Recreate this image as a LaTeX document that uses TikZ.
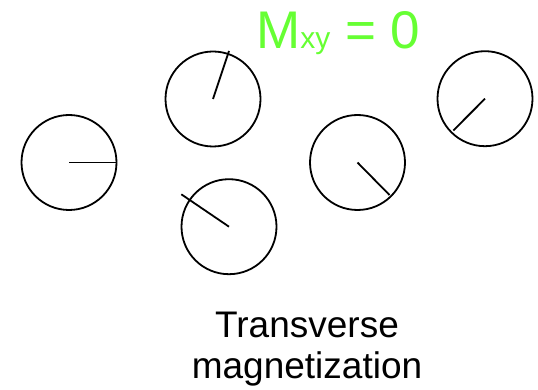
\documentclass[tikz,border=0pt]{standalone}
\usepackage{fontspec}
\setmainfont{Liberation Sans}
\definecolor{mgreen}{RGB}{102,255,51}
\tikzset{
  spin/.style={circle, draw=black, line width=1.8pt, minimum size=95pt, inner sep=0pt},
  hand/.style={line width=1.8pt, draw=black},
  lbl/.style={inner sep=0pt, anchor=base, font=\fontsize{37}{41}\selectfont}
}
\begin{document}
\begin{tikzpicture}[x=1pt, y=-1pt]
\useasboundingbox (0,0) rectangle (538,390);
\node[spin] (c1) at (69,162.5) {};
\node[spin] (c2) at (213,99) {};
\node[spin] (c3) at (229,226.7) {};
\node[spin] (c4) at (357.5,162.5) {};
\node[spin] (c5) at (485,98.7) {};
\coordinate (h1) at (117,162.5);
\coordinate (h2) at (229,51);
\coordinate (h3) at (181.3,194.3);
\coordinate (h4) at (389.5,195);
\coordinate (h5) at (453.3,130.5);
\draw[hand] (c1.center) -- (h1);
\draw[hand] (c2.center) -- (h2);
\draw[hand] (c3.center) -- (h3);
\draw[hand] (c4.center) -- (h4);
\draw[hand] (c5.center) -- (h5);
\node[inner sep=0pt, anchor=base west, text=mgreen, font=\fontsize{53}{60}\selectfont] (mxy) at (256,48.3)
  {M{\fontsize{30}{36}\selectfont xy} = 0};
\node[lbl] (t1) at (307,337) {Transverse};
\node[lbl] (t2) at (307,378) {magnetization};
\end{tikzpicture}
\end{document}
